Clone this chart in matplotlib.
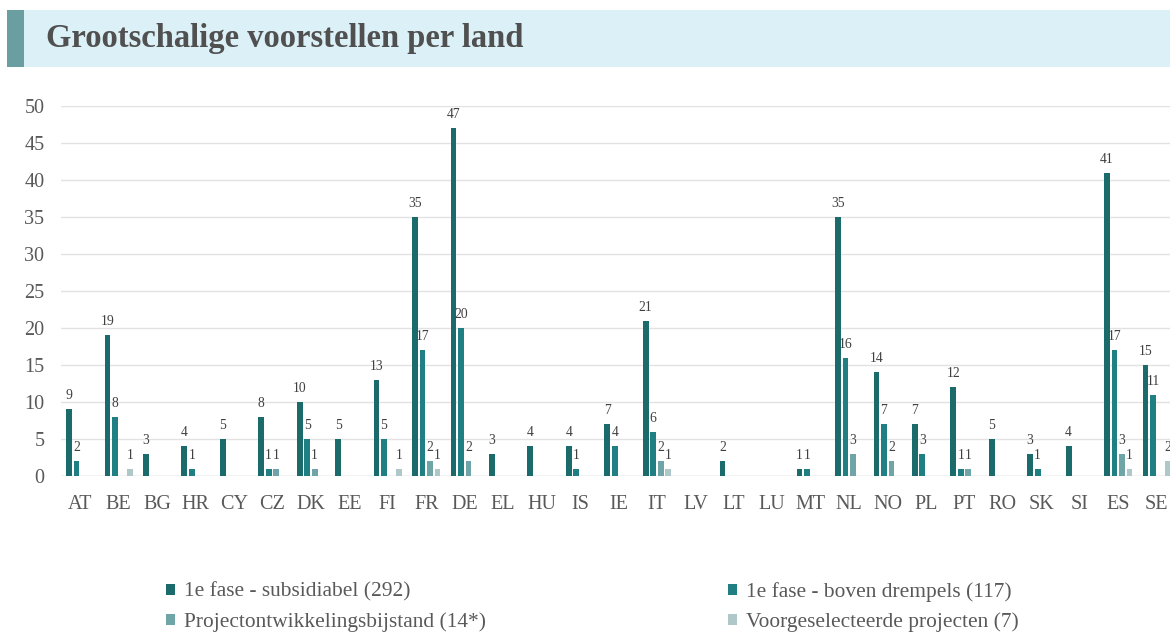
import matplotlib
matplotlib.use("Agg")
import matplotlib.pyplot as plt
from matplotlib.patches import Rectangle
import numpy as np

countries = ["AT", "BE", "BG", "HR", "CY", "CZ", "DK", "EE", "FI", "FR", "DE", "EL", "HU", "IS",
             "IE", "IT", "LV", "LT", "LU", "MT", "NL", "NO", "PL", "PT", "RO", "SK", "SI", "ES", "SE"]
subsidiabel = [9, 19, 3, 4, 5, 8, 10, 5, 13, 35, 47, 3, 4, 4, 7, 21, 0, 2, 0, 1, 35, 14, 7, 12, 5, 3, 4, 41, 15]
boven_drempels = [2, 8, 0, 1, 0, 1, 5, 0, 5, 17, 20, 0, 0, 1, 4, 6, 0, 0, 0, 1, 16, 7, 3, 1, 0, 1, 0, 17, 11]
projectontwikkeling = [0, 0, 0, 0, 0, 1, 1, 0, 0, 2, 2, 0, 0, 0, 0, 2, 0, 0, 0, 0, 3, 2, 0, 1, 0, 0, 0, 3, 0]
voorgeselecteerd = [0, 1, 0, 0, 0, 0, 0, 0, 1, 1, 0, 0, 0, 0, 0, 1, 0, 0, 0, 0, 0, 0, 0, 0, 0, 0, 0, 1, 2]
series_labels = ["1e fase - subsidiabel (292)", "1e fase - boven drempels (117)",
                 "Projectontwikkelingsbijstand (14*)", "Voorgeselecteerde projecten (7)"]
colors = ["#1b6b6d", "#1f7f82", "#6fa5a6", "#aec8ca"]
title = "Grootschalige voorstellen per land"

plt.rcParams['font.family'] = ['Liberation Serif', 'DejaVu Serif']

W, H = 1170, 633
fig = plt.figure(figsize=(W / 100, H / 100), dpi=100)

# title band
fig.patches.append(Rectangle((7 / W, 1 - 67 / H), 1 - 7 / W, 57 / H, transform=fig.transFigure,
                             facecolor="#dcf0f7", edgecolor="none", zorder=0))
fig.patches.append(Rectangle((7 / W, 1 - 67 / H), 17 / W, 57 / H, transform=fig.transFigure,
                             facecolor="#6a9ea0", edgecolor="none", zorder=1))
fig.text(46 / W, 1 - 39 / H, title, fontsize=23.5, fontweight="bold", color="#505050",
         va="center", ha="left")

left, right = 61, 1176
top, bottom = 106, 476
ax = fig.add_axes([left / W, 1 - bottom / H, (right - left) / W, (bottom - top) / H])

series = [subsidiabel, boven_drempels, projectontwikkeling, voorgeselecteerd]
x = np.arange(len(countries))
step = 0.195
bw = 0.15
handles = []
for i, (vals, col, lab) in enumerate(zip(series, colors, series_labels)):
    pos = x + (i - 1.5) * step
    bars = ax.bar(pos, vals, width=bw, color=col, label=lab, zorder=3)
    handles.append(bars)
    for p, v in zip(pos, vals):
        if v > 0:
            ax.annotate(str(v), (p, v), xytext=(0, 5), textcoords="offset points",
                        ha="center", va="bottom", fontsize=9.8, color="#404040",
                        annotation_clip=False)

ax.set_xlim(-0.5, len(countries) - 0.5)
ax.set_ylim(0, 50)
ax.set_yticks(range(0, 51, 5))
ax.set_xticks(x)
ax.set_xticklabels(countries)
ax.tick_params(axis="both", length=0, labelsize=14.5, labelcolor="#595959")
ax.tick_params(axis="x", pad=14)
ax.tick_params(axis="y", pad=12)
ax.grid(axis="y", color="#e2e2e2", linewidth=1, zorder=0)
ax.set_axisbelow(True)
for s in ax.spines.values():
    s.set_visible(False)
ax.axhline(0, color="#d9d9d9", linewidth=1, zorder=2)

order = [0, 2, 1, 3]
leg = fig.legend([handles[i] for i in order], [series_labels[i] for i in order],
                 ncol=2, loc="upper left", bbox_to_anchor=(166 / W, 1 - 582 / H),
                 frameon=False, fontsize=15.4, handlelength=0.42, handleheight=0.42,
                 handletextpad=0.4, columnspacing=11.35, labelspacing=0.5,
                 borderaxespad=0, borderpad=0)
for t in leg.get_texts():
    t.set_color("#595959")

fig.savefig("out.png", dpi=100)
